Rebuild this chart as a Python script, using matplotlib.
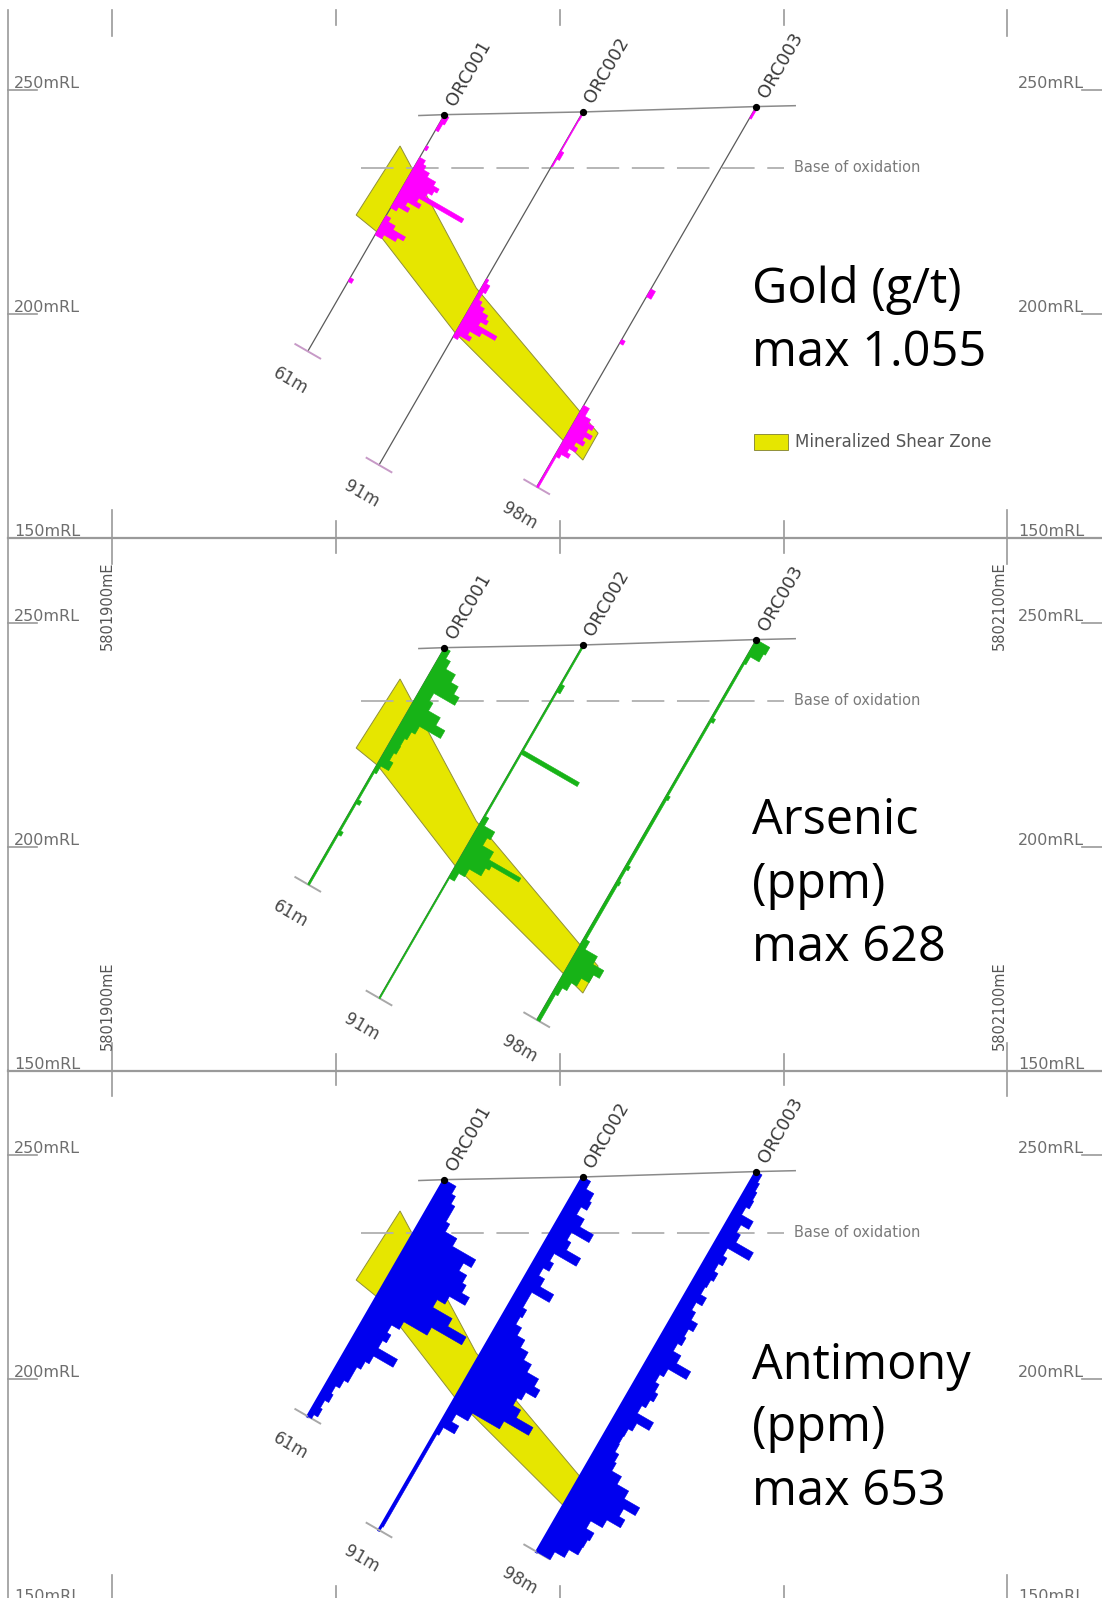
import numpy as np
import matplotlib.pyplot as plt
from matplotlib.patches import Polygon, Rectangle

W, H = 1102, 1598
PX = 4.48                  # pixels per metre, section drawn 1:1
X0 = 112                   # pixel column of 5801900mE
Y250 = [90, 623, 1155]     # pixel row of 250mRL in each panel
TOPS = [0, 538, 1070]
BOTS = [538, 1070, 1598]

# drillholes, x = metres east of 5801900mE
holes = ["ORC001", "ORC002", "ORC003"]
collar_x = [74.2, 105.1, 143.8]
collar_rl = [244.5, 245.1, 246.3]
hole_depth = [61, 91, 98]
dip = 60.0

topo_x = [68.5, 74.2, 105.1, 143.8, 152.5]
topo_rl = [244.3, 244.5, 245.1, 246.3, 246.5]
oxid_x = [55.5, 150.0]
oxid_rl = 232.5

zone_x = [64.3, 81.3, 108.5, 105.1, 76.6, 59.3, 54.5]
zone_rl = [237.5, 205.8, 173.4, 167.4, 195.8, 218.2, 222.1]

# gold g/t  (from m, to m, value)
au_orc001 = [(0, 2, 0.08), (2, 4, 0.05), (8, 9, 0.04), (11, 12, 0.1), (12, 13, 0.15),
             (13, 14, 0.25), (14, 15, 0.4), (15, 16, 0.5), (16, 17, 0.45), (17, 18, 0.38),
             (18, 19, 1.055), (19, 20, 0.3), (20, 21, 0.38), (21, 22, 0.18), (22, 23, 0.26),
             (23, 24, 0.1), (26, 27, 0.08), (27, 28, 0.2), (28, 29, 0.42), (29, 30, 0.32),
             (30, 31, 0.12), (42, 43, 0.06)]
au_orc002 = [(0, 2, 0.02), (2, 10, 0.015), (10, 12, 0.06), (12, 14, 0.02), (43, 44, 0.04),
             (44, 46, 0.1), (46, 48, 0.06), (48, 49, 0.12), (49, 50, 0.2), (50, 51, 0.3),
             (51, 52, 0.35), (52, 53, 0.25), (53, 54, 0.58), (54, 55, 0.35), (55, 56, 0.18),
             (56, 57, 0.25), (57, 58, 0.08)]
au_orc003 = [(0, 3, 0.03), (47, 49, 0.08), (60, 61, 0.06), (77, 79, 0.1), (79, 80, 0.2),
             (80, 81, 0.3), (81, 82, 0.24), (82, 83, 0.35), (83, 84, 0.25), (84, 85, 0.3),
             (85, 86, 0.18), (86, 87, 0.25), (87, 88, 0.14), (88, 89, 0.2), (89, 90, 0.08),
             (90, 98, 0.03)]

# arsenic ppm  (from m, to m, value)
as_orc001 = [(0, 2, 65), (2, 4, 115), (4, 6, 220), (6, 8, 300), (8, 10, 360), (10, 12, 130),
             (12, 14, 170), (14, 16, 300), (16, 18, 400), (18, 20, 170), (20, 22, 130),
             (22, 24, 105), (24, 26, 110), (26, 28, 85), (28, 30, 125), (30, 32, 40),
             (32, 39, 18), (39, 40, 50), (40, 47, 18), (47, 48, 45), (48, 61, 18)]
as_orc002 = [(0, 10, 15), (10, 12, 45), (12, 27, 15), (27, 28, 628), (28, 44, 15),
             (44, 46, 50), (46, 48, 165), (48, 50, 130), (50, 52, 250), (52, 53, 600),
             (53, 54, 300), (54, 56, 260), (56, 58, 130), (58, 60, 65), (60, 91, 12)]
as_orc003 = [(0, 2, 150), (2, 4, 130), (4, 6, 35), (6, 20, 20), (20, 21, 45), (21, 40, 20),
             (40, 41, 40), (41, 58, 25), (58, 59, 45), (59, 62, 25), (62, 63, 40),
             (63, 77, 28), (77, 79, 65), (79, 81, 200), (81, 83, 320), (83, 85, 255),
             (85, 87, 170), (87, 89, 110), (89, 91, 60), (91, 98, 35)]

# antimony ppm, 2 m composites from the collar
sb_step = 2
sb_orc001 = [90, 120, 150, 150, 180, 270, 450, 390, 450, 480, 540, 420, 360, 510, 653,
             420, 240, 180, 210, 180, 330, 180, 150, 120, 120, 90, 60, 75, 45, 60, 30]
sb_orc002 = [60, 120, 135, 90, 150, 255, 120, 150, 260, 90, 120, 75, 120, 225, 90, 90,
             120, 105, 150, 210, 270, 330, 420, 465, 390, 360, 420, 550, 360, 150, 60,
             115, 30, 15, 15, 15, 15, 15, 15, 15, 15, 15, 15, 15, 15]
sb_orc003 = [45, 60, 75, 85, 60, 150, 90, 120, 255, 90, 120, 90, 120, 100, 90, 135, 90,
             120, 170, 135, 150, 120, 180, 290, 150, 120, 150, 175, 150, 120, 245, 150,
             120, 115, 120, 150, 165, 240, 330, 450, 360, 405, 300, 210, 270, 255, 250,
             180, 105]


def composites(vals, depth):
    return [(i * sb_step, min((i + 1) * sb_step, depth), v) for i, v in enumerate(vals)
            if i * sb_step < depth]


panels = [
    dict(color="#ff00ff", scale=14.6, trace="#5a5a5a", tw=0.9, eoh="#c79ac7",
         data=[au_orc001, au_orc002, au_orc003],
         lines=["Gold (g/t)", "max 1.055"], base=[303, 366]),
    dict(color="#17b317", scale=1 / 42.7, trace="#5a5a5a", tw=0.8, eoh="#a8a8a8",
         data=[as_orc001, as_orc002, as_orc003],
         lines=["Arsenic", "(ppm)", "max 628"], base=[834, 898, 961]),
    dict(color="#0000ee", scale=1 / 30.0, trace="#0000ee", tw=2.2, eoh="#a8a8a8",
         data=[composites(sb_orc001, 61), composites(sb_orc002, 91), composites(sb_orc003, 98)],
         lines=["Antimony", "(ppm)", "max 653"], base=[1379, 1441, 1505]),
]

a = np.radians(dip)
ux, uy = -np.cos(a), -np.sin(a)     # down the hole
nx, ny = np.sin(a), -np.cos(a)      # histogram side


def on_hole(i, dd):
    return collar_x[i] + dd * ux, collar_rl[i] + dd * uy


def runs(ivals):
    ivals = sorted(ivals)
    out = [[ivals[0]]]
    for iv in ivals[1:]:
        if abs(iv[0] - out[-1][-1][1]) < 1e-6:
            out[-1].append(iv)
        else:
            out.append([iv])
    return out


fig = plt.figure(figsize=(W / 100, H / 100), dpi=100)
grey = "#9a9a9a"
lab = "#6e6e6e"

for k, p in enumerate(panels):
    top, bot = TOPS[k], BOTS[k]
    ax = fig.add_axes([0, 1 - bot / H, 1, (bot - top) / H])
    ax.set_xlim(-X0 / PX, (W - X0) / PX)
    ax.set_ylim(250 - (bot - Y250[k]) / PX, 250 + (Y250[k] - top) / PX)
    ax.axis("off")

    def d(X, Y):
        return (X - X0) / PX, 250 - (Y - Y250[k]) / PX

    # frame, grid ticks and RL labels
    ftop = 10 if k == 0 else top
    ax.plot(*zip(d(8, ftop), d(8, bot)), color=grey, lw=1.2, clip_on=False)
    y150 = Y250[k] + 100 * PX
    if y150 <= bot + 1:
        ax.plot(*zip(d(8, y150), d(W, y150)), color=grey, lw=1.6, clip_on=False)
    for gx in [112, 336, 560, 784, 1007]:
        ln = 26 if gx in (112, 1007) else 15
        ax.plot(*zip(d(gx, ftop), d(gx, ftop + ln)), color=grey, lw=1.2)
        ax.plot(*zip(d(gx, y150 - ln - 2), d(gx, min(y150, bot))), color=grey, lw=1.2)
    for rl in [250, 200, 150]:
        yy = Y250[k] + (250 - rl) * PX
        if yy > bot + 10:
            continue
        ax.plot(*zip(d(8, yy), d(37, yy)), color=grey, lw=1.2)
        ax.plot(*zip(d(1082, yy), d(W, yy)), color=grey, lw=1.2)
        ax.text(*d(14, yy + 1), "%dmRL" % rl, fontsize=11.5, color=lab, va="bottom", ha="left")
        ax.text(*d(1018, yy + 1), "%dmRL" % rl, fontsize=11.5, color=lab, va="bottom", ha="left")
    if k == 1:
        for yc in [606, 1006]:
            ax.text(*d(107, yc), "5801900mE", rotation=90, fontsize=10.5, color="#555555",
                    ha="center", va="center")
            ax.text(*d(999, yc), "5802100mE", rotation=90, fontsize=10.5, color="#555555",
                    ha="center", va="center")

    # geology
    ax.add_patch(Polygon(np.column_stack([zone_x, zone_rl]), closed=True, fc="#e6e600",
                         ec="#8f8f3a", lw=0.7, zorder=1))
    ax.plot(topo_x, topo_rl, color="#8a8a8a", lw=1.1, zorder=2)
    ax.plot(oxid_x, [oxid_rl, oxid_rl], color="#b0b0b0", lw=1.3, dashes=(18, 7), zorder=2)
    ax.text(152.3, oxid_rl + 0.3, "Base of oxidation", fontsize=10.5, color="#7a7a7a",
            va="center", ha="left")

    # drillholes with downhole histograms
    for i in range(3):
        ex, ey = on_hole(i, hole_depth[i])
        ax.plot([collar_x[i], ex], [collar_rl[i], ey], color=p["trace"], lw=p["tw"], zorder=3)
        for run in runs(p["data"][i]):
            pts = []
            for f, t, v in run:
                L = v * p["scale"]
                for dd in (f, t):
                    hx, hy = on_hole(i, dd)
                    pts.append((hx + L * nx, hy + L * ny))
            pts.append(on_hole(i, run[-1][1]))
            pts.append(on_hole(i, run[0][0]))
            ax.add_patch(Polygon(pts, closed=True, fc=p["color"], ec=p["color"], lw=0.4,
                                 zorder=4))
        h = 3.2
        ax.plot([ex - h * nx, ex + h * nx], [ey - h * ny, ey + h * ny], color=p["eoh"],
                lw=1.4, zorder=3)
        off = 34 / PX
        ax.text(ex + off * ux, ey + off * uy, "%dm" % hole_depth[i], rotation=-30,
                rotation_mode="anchor", ha="center", va="center", fontsize=12,
                color="#4a4a4a")
        ax.plot(collar_x[i], collar_rl[i], "o", color="black", ms=4.2, zorder=6)
        o2 = 12 / PX
        ax.text(collar_x[i] + o2 * np.cos(a), collar_rl[i] + o2 * np.sin(a), holes[i],
                rotation=60, rotation_mode="anchor", ha="left", va="center",
                fontsize=13, color="#3a3a3a")

    # title block
    for line, yb in zip(p["lines"], p["base"]):
        ax.text(*d(752, yb), line, fontsize=35, family="Open Sans", color="black",
                ha="left", va="baseline")
    if k == 0:
        ax.add_patch(Rectangle(d(754, 450), 34 / PX, 16 / PX, fc="#e6e600", ec="#8f8f3a",
                               lw=0.7))
        ax.text(*d(795, 442), "Mineralized Shear Zone", fontsize=12, color="#555555",
                ha="left", va="center")

fig.savefig("out.png", dpi=100)
